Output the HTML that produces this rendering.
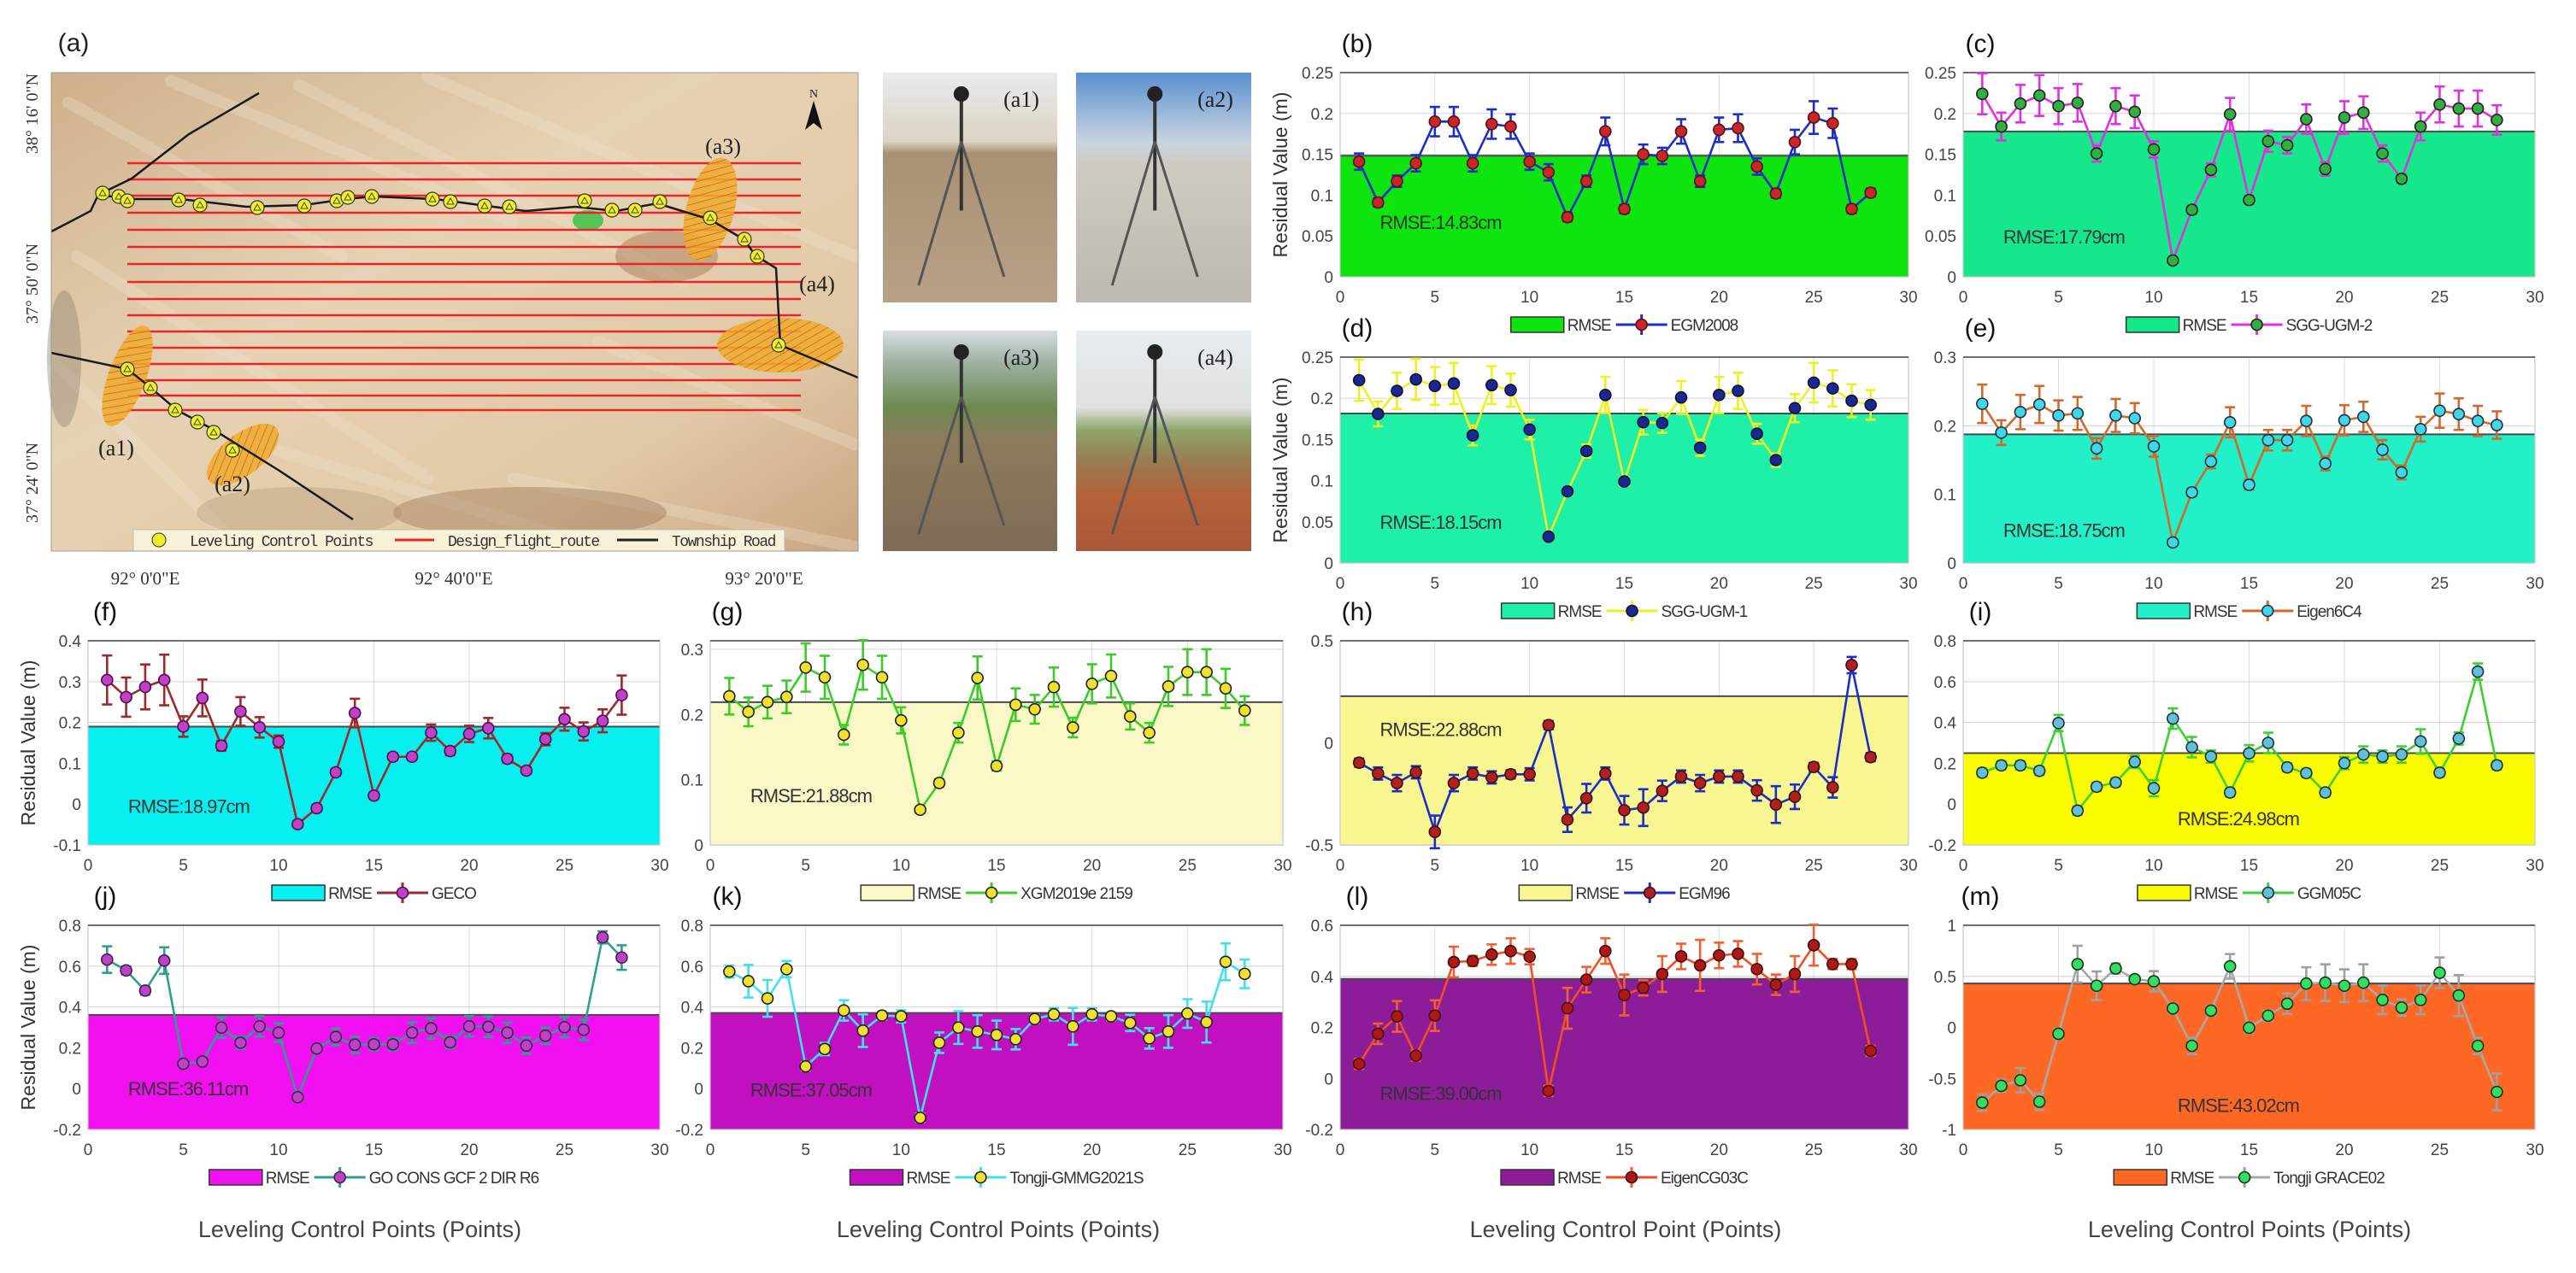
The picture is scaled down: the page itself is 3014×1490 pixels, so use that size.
<!DOCTYPE html>
<html><head><meta charset="utf-8"><style>
html,body{margin:0;padding:0;background:#fff}
svg{display:block;font-family:"Liberation Sans",Arial,sans-serif}
</style></head><body>
<svg id="fig" xmlns="http://www.w3.org/2000/svg" width="3014" height="1490" viewBox="0 0 3014 1490">
<defs>
<linearGradient id="mapbg" x1="0" y1="0" x2="1" y2="1"><stop offset="0" stop-color="#cfb08a"/><stop offset="0.4" stop-color="#e6d2b4"/><stop offset="0.75" stop-color="#e2c9a6"/><stop offset="1" stop-color="#c9a580"/></linearGradient>
<linearGradient id="ph1" x1="0" y1="0" x2="0" y2="1"><stop offset="0" stop-color="#e8ecee"/><stop offset="0.3" stop-color="#dcd3c2"/><stop offset="0.35" stop-color="#a89276"/><stop offset="1" stop-color="#b8a186"/></linearGradient>
<linearGradient id="ph2" x1="0" y1="0" x2="0" y2="1"><stop offset="0" stop-color="#5a8fd0"/><stop offset="0.3" stop-color="#c8d4e0"/><stop offset="0.4" stop-color="#cfcac2"/><stop offset="1" stop-color="#bdb8b0"/></linearGradient>
<linearGradient id="ph3" x1="0" y1="0" x2="0" y2="1"><stop offset="0" stop-color="#d8dde0"/><stop offset="0.15" stop-color="#9db0a0"/><stop offset="0.35" stop-color="#6e8a4e"/><stop offset="0.5" stop-color="#8d7b5e"/><stop offset="1" stop-color="#7d6c55"/></linearGradient>
<linearGradient id="ph4" x1="0" y1="0" x2="0" y2="1"><stop offset="0" stop-color="#e6ecf0"/><stop offset="0.35" stop-color="#dfe2de"/><stop offset="0.45" stop-color="#8ea66a"/><stop offset="0.6" stop-color="#9a7a50"/><stop offset="0.75" stop-color="#b5623a"/><stop offset="1" stop-color="#a8583a"/></linearGradient>
<pattern id="hatch" width="8" height="8" patternUnits="userSpaceOnUse" patternTransform="rotate(60)"><rect width="8" height="8" fill="#f2a92a" opacity="0.85"/><line x1="0" y1="0" x2="0" y2="8" stroke="#a06020" stroke-width="1.2"/></pattern>
</defs>
<g id="mapgrp"></g>
<g id="photos"></g>
<g id="charts"></g>
</svg>
<script>
// ===== chart data =====
const pointIds = [1,2,3,4,5,6,7,8,9,10,11,12,13,14,15,16,17,18,19,20,21,22,23,24,25,26,27,28];
const xTicks = [0,5,10,15,20,25,30];

const valsB = [0.141,0.091,0.117,0.139,0.19,0.19,0.139,0.187,0.184,0.141,0.128,0.073,0.117,0.178,0.083,0.150,0.148,0.178,0.117,0.180,0.182,0.135,0.102,0.165,0.195,0.188,0.083,0.103];
const errB = [0.01,0.005,0.007,0.01,0.018,0.018,0.01,0.018,0.015,0.01,0.01,0.005,0.007,0.017,0.005,0.012,0.01,0.015,0.007,0.015,0.017,0.01,0.005,0.015,0.02,0.018,0.005,0.005];
const valsC = [0.224,0.184,0.212,0.222,0.209,0.213,0.151,0.209,0.202,0.156,0.020,0.082,0.131,0.199,0.094,0.166,0.161,0.193,0.132,0.195,0.201,0.151,0.120,0.184,0.211,0.206,0.206,0.192];
const errC = [0.025,0.017,0.023,0.025,0.022,0.023,0.01,0.022,0.02,0.01,0.003,0.005,0.008,0.02,0.005,0.013,0.01,0.018,0.008,0.02,0.02,0.01,0.005,0.017,0.022,0.022,0.022,0.018];
const valsD = [0.222,0.181,0.209,0.223,0.215,0.218,0.155,0.216,0.210,0.162,0.032,0.087,0.136,0.204,0.099,0.171,0.170,0.201,0.140,0.204,0.209,0.157,0.125,0.188,0.219,0.212,0.197,0.192];
const errD = [0.025,0.015,0.022,0.025,0.023,0.025,0.012,0.023,0.02,0.012,0.003,0.004,0.008,0.022,0.005,0.015,0.012,0.02,0.01,0.022,0.022,0.012,0.008,0.017,0.024,0.022,0.02,0.018];
const valsE = [0.232,0.190,0.220,0.231,0.215,0.218,0.167,0.215,0.211,0.170,0.030,0.103,0.148,0.205,0.114,0.179,0.179,0.207,0.145,0.208,0.213,0.165,0.132,0.195,0.222,0.217,0.207,0.201];
const errE = [0.028,0.018,0.025,0.027,0.022,0.024,0.015,0.024,0.022,0.015,0.004,0.006,0.01,0.022,0.007,0.015,0.015,0.022,0.01,0.022,0.022,0.014,0.01,0.018,0.025,0.023,0.022,0.02];
const valsF = [0.304,0.262,0.287,0.304,0.190,0.260,0.143,0.227,0.188,0.153,-0.049,-0.010,0.078,0.223,0.021,0.116,0.116,0.175,0.130,0.172,0.186,0.111,0.082,0.159,0.208,0.178,0.204,0.267];
const errF = [0.06,0.048,0.055,0.062,0.025,0.045,0.012,0.035,0.025,0.015,0.008,0.008,0.008,0.035,0.008,0.008,0.008,0.02,0.01,0.02,0.025,0.01,0.008,0.015,0.028,0.022,0.028,0.048];
const valsG = [0.228,0.204,0.219,0.227,0.272,0.257,0.169,0.276,0.257,0.191,0.054,0.095,0.172,0.256,0.121,0.215,0.208,0.242,0.180,0.247,0.259,0.197,0.172,0.243,0.265,0.265,0.240,0.206];
const errG = [0.028,0.022,0.025,0.025,0.037,0.033,0.015,0.038,0.033,0.02,0.005,0.006,0.015,0.033,0.007,0.025,0.022,0.03,0.015,0.03,0.033,0.02,0.015,0.03,0.035,0.035,0.03,0.022];
const valsH = [-0.097,-0.150,-0.197,-0.144,-0.436,-0.197,-0.150,-0.169,-0.154,-0.154,0.087,-0.376,-0.271,-0.150,-0.330,-0.317,-0.235,-0.165,-0.197,-0.165,-0.165,-0.233,-0.302,-0.264,-0.118,-0.218,0.381,-0.070];
const errH = [0.02,0.03,0.04,0.03,0.08,0.04,0.03,0.03,0.02,0.03,0.02,0.06,0.07,0.03,0.07,0.09,0.05,0.03,0.04,0.03,0.03,0.05,0.09,0.06,0.02,0.05,0.04,0.02];
const valsI = [0.154,0.190,0.190,0.163,0.397,-0.032,0.085,0.106,0.207,0.078,0.419,0.279,0.233,0.057,0.249,0.300,0.180,0.152,0.057,0.201,0.243,0.233,0.243,0.307,0.154,0.321,0.649,0.190];
const errI = [0.02,0.02,0.02,0.02,0.04,0.02,0.02,0.02,0.03,0.04,0.05,0.05,0.03,0.02,0.04,0.05,0.02,0.02,0.02,0.03,0.04,0.03,0.04,0.06,0.02,0.03,0.04,0.02];
const valsJ = [0.632,0.579,0.480,0.627,0.122,0.133,0.299,0.225,0.305,0.274,-0.042,0.196,0.253,0.215,0.217,0.217,0.274,0.295,0.227,0.305,0.303,0.274,0.211,0.259,0.301,0.288,0.741,0.642];
const errJ = [0.065,0.02,0.02,0.065,0.02,0.02,0.05,0.03,0.05,0.045,0.02,0.02,0.04,0.04,0.03,0.03,0.05,0.05,0.03,0.05,0.05,0.05,0.04,0.04,0.05,0.05,0.03,0.06];
const valsK = [0.573,0.526,0.442,0.585,0.109,0.194,0.383,0.284,0.358,0.354,-0.143,0.225,0.299,0.280,0.263,0.242,0.341,0.364,0.305,0.364,0.354,0.322,0.246,0.280,0.368,0.326,0.621,0.562];
const errK = [0.03,0.08,0.09,0.04,0.02,0.03,0.05,0.08,0.02,0.03,0.02,0.05,0.08,0.08,0.07,0.05,0.02,0.03,0.09,0.03,0.02,0.04,0.05,0.08,0.07,0.1,0.09,0.07];
const valsL = [0.057,0.175,0.243,0.089,0.246,0.456,0.460,0.485,0.499,0.477,-0.049,0.275,0.387,0.499,0.327,0.355,0.409,0.478,0.443,0.482,0.488,0.428,0.367,0.409,0.522,0.448,0.448,0.108];
const errL = [0.02,0.04,0.06,0.02,0.06,0.06,0.02,0.04,0.05,0.03,0.02,0.08,0.05,0.05,0.08,0.03,0.07,0.05,0.1,0.05,0.05,0.06,0.04,0.07,0.08,0.02,0.02,0.02];
const valsM = [-0.737,-0.573,-0.518,-0.728,-0.063,0.619,0.408,0.577,0.472,0.451,0.185,-0.181,0.164,0.598,-0.004,0.114,0.232,0.429,0.438,0.408,0.438,0.269,0.194,0.269,0.535,0.312,-0.181,-0.632];
const errM = [0.08,0.06,0.12,0.08,0.05,0.18,0.14,0.05,0.03,0.1,0.05,0.08,0.05,0.12,0.05,0.05,0.1,0.16,0.18,0.16,0.18,0.14,0.08,0.14,0.15,0.2,0.08,0.18];

const rmseValues = [0.1483,0.1779,0.1815,0.1875,0.1897,0.2188,0.2288,0.2498,0.3611,0.3705,0.3900,0.4302];
const rmseLabels = ["RMSE:14.83cm","RMSE:17.79cm","RMSE:18.15cm","RMSE:18.75cm","RMSE:18.97cm","RMSE:21.88cm","RMSE:22.88cm","RMSE:24.98cm","RMSE:36.11cm","RMSE:37.05cm","RMSE:39.00cm","RMSE:43.02cm"];
const modelNames = ["EGM2008","SGG-UGM-2","SGG-UGM-1","Eigen6C4","GECO","XGM2019e 2159","EGM96","GGM05C","GO CONS GCF 2 DIR R6","Tongji-GMMG2021S","EigenCG03C","Tongji GRACE02"];
const yTicksB = [0,0.05,0.1,0.15,0.2,0.25];
const yTicksE = [0,0.1,0.2,0.3];
const yTicksF = [-0.1,0,0.1,0.2,0.3,0.4];
const yTicksG = [0,0.1,0.2,0.3];
const yTicksH = [-0.5,0,0.5];
const yTicksI = [-0.2,0,0.2,0.4,0.6,0.8];
const yTicksL = [-0.2,0,0.2,0.4,0.6];
const yTicksM = [-1,-0.5,0,0.5,1];

const NS="http://www.w3.org/2000/svg";
function mk(tag,attrs,parent){const e=document.createElementNS(NS,tag);for(const k in attrs)e.setAttribute(k,attrs[k]);if(parent)parent.appendChild(e);return e;}
function fmt(v){if(Math.abs(v)<1e-9)return "0";let s=String(+v.toFixed(2));return s;}

const charts=document.getElementById('charts');
const L1=1568,R1=2233,L2=2297,R2=2966,LF=103,RF=772,LG=831,RG=1501;
const panels=[
 {id:'b',label:'(b)',l:L1,r:R1,t:85,b:324,vals:valsB,err:errB,ri:0,ymin:0,ymax:0.25,ticks:yTicksB,fill:'#0ee40e',line:'#1b2fc8',mk:'#c8262a',mke:'#5a1010',eb:'#1b2fc8',tx:0.07,ty:0.067,ytitle:true},
 {id:'c',label:'(c)',l:L2,r:R2,t:85,b:324,vals:valsC,err:errC,ri:1,ymin:0,ymax:0.25,ticks:yTicksB,fill:'#14e88a',line:'#e030e0',mk:'#30b040',mke:'#202020',eb:'#e030e0',tx:0.07,ty:0.049},
 {id:'d',label:'(d)',l:L1,r:R1,t:418,b:659,vals:valsD,err:errD,ri:2,ymin:0,ymax:0.25,ticks:yTicksB,fill:'#1ef0a8',line:'#f0f020',mk:'#1a2890',mke:'#101040',eb:'#f0f020',tx:0.07,ty:0.05,ytitle:true},
 {id:'e',label:'(e)',l:L2,r:R2,t:418,b:659,vals:valsE,err:errE,ri:3,ymin:0,ymax:0.3,ticks:yTicksE,fill:'#22f0c8',line:'#d2692a',mk:'#40d8e8',mke:'#203040',eb:'#d2692a',tx:0.07,ty:0.048},
 {id:'f',label:'(f)',l:LF,r:RF,t:750,b:989,vals:valsF,err:errF,ri:4,ymin:-0.1,ymax:0.4,ticks:yTicksF,fill:'#06f0f0',line:'#a0282a',mk:'#c040c8',mke:'#501050',eb:'#a0282a',tx:0.07,ty:-0.005,ytitle:true},
 {id:'g',label:'(g)',l:LG,r:RG,t:750,b:989,vals:valsG,err:errG,ri:5,ymin:0,ymax:0.313,ticks:yTicksG,fill:'#fbf8c8',line:'#3ccc28',mk:'#f0e030',mke:'#202020',eb:'#3ccc28',tx:0.07,ty:0.076},
 {id:'h',label:'(h)',l:L1,r:R1,t:750,b:989,vals:valsH,err:errH,ri:6,ymin:-0.5,ymax:0.5,ticks:yTicksH,fill:'#f8f690',line:'#1b2fc8',mk:'#b02020',mke:'#401010',eb:'#1b2fc8',tx:0.07,ty:0.067},
 {id:'i',label:'(i)',l:L2,r:R2,t:750,b:989,vals:valsI,err:errI,ri:7,ymin:-0.2,ymax:0.8,ticks:yTicksI,fill:'#fcfc00',line:'#3cd030',mk:'#60c0d8',mke:'#203040',eb:'#3cd030',tx:0.375,ty:-0.071},
 {id:'j',label:'(j)',l:LF,r:RF,t:1083,b:1322,vals:valsJ,err:errJ,ri:8,ymin:-0.2,ymax:0.8,ticks:yTicksI,fill:'#f010f0',line:'#2e9e8e',mk:'#c040c8',mke:'#402050',eb:'#2e9e8e',tx:0.07,ty:0.0,ytitle:true},
 {id:'k',label:'(k)',l:LG,r:RG,t:1083,b:1322,vals:valsK,err:errK,ri:9,ymin:-0.2,ymax:0.8,ticks:yTicksI,fill:'#c010c0',line:'#40e0f0',mk:'#f0e030',mke:'#202020',eb:'#40e0f0',tx:0.07,ty:-0.006},
 {id:'l',label:'(l)',l:L1,r:R1,t:1083,b:1322,vals:valsL,err:errL,ri:10,ymin:-0.2,ymax:0.6,ticks:yTicksL,fill:'#8c1c98',line:'#f05020',mk:'#b01818',mke:'#401010',eb:'#f06030',tx:0.07,ty:-0.057},
 {id:'m',label:'(m)',l:L2,r:R2,t:1083,b:1322,vals:valsM,err:errM,ri:11,ymin:-1,ymax:1,ticks:yTicksM,fill:'#fe6824',line:'#a8a8a8',mk:'#30e060',mke:'#203020',eb:'#a0a0a0',tx:0.375,ty:-0.76}
];

function drawPanel(p){
  const g=mk('g',{},charts);
  
  
  const xs=v=>p.l+(v-0)/(30-0)*(p.r-p.l);
  const ys=v=>p.b-(v-p.ymin)/(p.ymax-p.ymin)*(p.b-p.t);
  mk('rect',{x:p.l,y:p.t,width:p.r-p.l,height:p.b-p.t,fill:'#fff'},g);
  xTicks.forEach(t=>{mk('line',{x1:xs(t),x2:xs(t),y1:p.t,y2:p.b,stroke:'#dcdcdc','stroke-width':1},g);});
  p.ticks.forEach(t=>{mk('line',{x1:p.l,x2:p.r,y1:ys(t),y2:ys(t),stroke:'#d8d8d8','stroke-width':1.2},g);});
  const rv=rmseValues[p.ri];
  const fr=mk('rect',{x:p.l,y:ys(rv),width:p.r-p.l,height:p.b-ys(rv),fill:p.fill},g);
  
  
  mk('line',{x1:p.l,x2:p.r,y1:ys(rv),y2:ys(rv),stroke:'#4a4a4a','stroke-width':2},g);
  mk('rect',{x:p.l,y:p.t,width:p.r-p.l,height:p.b-p.t,fill:'none',stroke:'#c8c8c8','stroke-width':1.2},g);
  mk('line',{x1:p.l,x2:p.r,y1:p.t,y2:p.t,stroke:'#707070','stroke-width':2},g);
  xTicks.forEach(t=>{const tx=mk('text',{x:xs(t),y:p.b+30,'text-anchor':'middle','font-size':19,fill:'#444'},g);tx.textContent=t;
    
    });
  p.ticks.forEach(t=>{const ty=mk('text',{x:p.l-8,y:ys(t)+7,'text-anchor':'end','font-size':19,fill:'#444'},g);ty.textContent=fmt(t);
    
    });
  const rt=mk('text',{x:p.l+p.tx*(p.r-p.l),y:ys(p.ty)+8,'font-size':22,fill:'#333','letter-spacing':'-1'},g);
  rt.textContent=rmseLabels[p.ri];
  
  
  const pts=pointIds.map((x,i)=>xs(x)+','+ys(p.vals[i])).join(' ');
  const pl=mk('polyline',{points:pts,fill:'none',stroke:p.line,'stroke-width':2.6},g);
  
  
  pointIds.forEach((x,i)=>{
    const v=p.vals[i],e=p.err[i],cx=xs(x);
    const eg=mk('g',{stroke:p.eb,'stroke-width':2.6},g);
    
    
    mk('line',{x1:cx,x2:cx,y1:ys(v-e),y2:ys(v+e)},eg);
    mk('line',{x1:cx-6,x2:cx+6,y1:ys(v-e),y2:ys(v-e)},eg);
    mk('line',{x1:cx-6,x2:cx+6,y1:ys(v+e),y2:ys(v+e)},eg);
  });
  pointIds.forEach((x,i)=>{
    const c=mk('circle',{cx:xs(x),cy:ys(p.vals[i]),r:6.5,fill:p.mk,stroke:p.mke,'stroke-width':1.6},g);
    
    
  });
  const lb=mk('text',{x:p.l+20,y:p.t-24,'text-anchor':'middle','font-size':30,fill:'#111'},g);
  lb.textContent=p.label;
  
  
  const lg=mk('g',{},g);
  
  
  const ly=p.b+56;
  mk('rect',{x:0,y:ly-9,width:62,height:18,fill:p.fill,stroke:'#333','stroke-width':1.5},lg);
  const t1=mk('text',{x:66,y:ly+7,'font-size':19,fill:'#333','letter-spacing':'-1'},lg);t1.textContent='RMSE';
  const w1=66+t1.getComputedTextLength()+6;
  mk('line',{x1:w1,x2:w1+60,y1:ly,y2:ly,stroke:p.line,'stroke-width':3},lg);
  mk('line',{x1:w1+30,x2:w1+30,y1:ly-12,y2:ly+12,stroke:p.eb,'stroke-width':3},lg);
  mk('circle',{cx:w1+30,cy:ly,r:6.5,fill:p.mk,stroke:p.mke,'stroke-width':1.6},lg);
  const t2=mk('text',{x:w1+64,y:ly+7,'font-size':19,fill:'#333','letter-spacing':'-1'},lg);t2.textContent=modelNames[p.ri];
  const tot=w1+64+t2.getComputedTextLength();
  lg.setAttribute('transform',`translate(${(p.l+p.r)/2-tot/2},0)`);
  if(p.ytitle){
    const cy=(p.t+p.b)/2, xx=p.l-62;
    const yt=mk('text',{x:xx,y:cy,'text-anchor':'middle','font-size':23,fill:'#333',transform:`rotate(-90 ${xx} ${cy})`},g);
    yt.textContent='Residual Value (m)';
    
    
  }
}
panels.forEach(drawPanel);
[[421,'Leveling Control Points (Points)'],[1168,'Leveling Control Points (Points)'],[1902,'Leveling Control Point (Points)'],[2632,'Leveling Control Points (Points)']].forEach(a=>{
  const t=mk('text',{x:a[0],y:1448,'text-anchor':'middle','font-size':27,fill:'#444'},charts);
  t.textContent=a[1];
  
  
});

// ===== map (a) =====
const mg=document.getElementById('mapgrp');
const MX0=60,MY0=85,MX1=1004,MY1=645;
mk('rect',{x:MX0,y:MY0,width:MX1-MX0,height:MY1-MY0,fill:'url(#mapbg)'},mg);
const streaks=[[80,120,400,300],[200,95,600,260],[350,100,800,330],[500,90,1000,300],[90,300,500,560],[300,520,700,640],[600,560,1000,640],[700,400,1000,520],[60,420,260,620]];
streaks.forEach(s=>mk('line',{x1:s[0],y1:s[1],x2:s[2],y2:s[3],stroke:'#f0e4d2','stroke-width':14,opacity:0.3,'stroke-linecap':'round'},mg));
mk('ellipse',{cx:620,cy:600,rx:160,ry:30,fill:'#8a6446',opacity:0.35},mg);
mk('ellipse',{cx:350,cy:600,rx:120,ry:30,fill:'#a98a6a',opacity:0.3},mg);
mk('ellipse',{cx:75,cy:420,rx:20,ry:80,fill:'#8a8070',opacity:0.4},mg);
mk('ellipse',{cx:780,cy:300,rx:60,ry:30,fill:'#9a6a40',opacity:0.4},mg);
mk('ellipse',{cx:688,cy:258,rx:18,ry:12,fill:'#30c040',opacity:0.8},mg);
const lineYs=[191,210,229,249,269,289,309,330,350,369,388,407,426,445,463,480];
const fl=mk('g',{},mg);
lineYs.forEach(y=>mk('line',{x1:149,x2:937,y1:y,y2:y,stroke:'#e8262a','stroke-width':2.6},fl));
const hz=[[831,245,28,62,15],[913,404,74,32,0],[149,440,22,62,20],[284,532,50,24,-38]];
hz.forEach(h=>mk('ellipse',{cx:h[0],cy:h[1],rx:h[2],ry:h[3],fill:'url(#hatch)',transform:`rotate(${h[4]} ${h[0]} ${h[1]})`},mg));
const road1=[[303,109],[221,157],[154,209],[115,228],[106,247],[60,271]];
const road2=[[115,228],[154,233],[211,233],[288,242],[356,240],[404,233],[437,230],[509,233],[577,242],[615,247],[673,242],[721,247],[769,238],[798,247],[831,257],[870,280],[884,299],[908,314],[913,404],[1004,442]];
const road3=[[60,413],[149,432],[173,451],[207,480],[250,503],[274,518],[327,551],[413,608]];
[road1,road2,road3].forEach(r=>mk('polyline',{points:r.map(p=>p.join(',')).join(' '),fill:'none',stroke:'#1a1a1a','stroke-width':2.5},mg));
const lcp=[[120,226],[139,230],[149,235],[209,234],[234,240],[301,243],[356,241],[394,235],[407,231],[435,230],[506,233],[527,236],[567,241],[596,242],[684,235],[716,246],[743,246],[772,236],[831,255],[871,280],[886,300],[911,404],[149,432],[176,454],[205,480],[231,494],[250,506],[272,527]];
lcp.forEach(q=>{const c=mk('circle',{cx:q[0],cy:q[1],r:8,fill:'#f0f028',stroke:'#333','stroke-width':1.2},mg);
  
  
  mk('path',{d:`M${q[0]-4},${q[1]+3} L${q[0]},${q[1]-4} L${q[0]+4},${q[1]+3}Z`,fill:'none',stroke:'#444','stroke-width':1},mg);});
function txt(x,y,s,size,attrs,parent,name){const t=mk('text',Object.assign({x:x,y:y,'font-size':size,fill:'#222','font-family':'"Liberation Serif",serif'},attrs||{}),parent||mg);t.textContent=s;return t;}
txt(846,180,'(a3)',26,{'text-anchor':'middle'});
txt(956,341,'(a4)',26,{'text-anchor':'middle'});
txt(136,533,'(a1)',26,{'text-anchor':'middle'});
txt(272,575,'(a2)',26,{'text-anchor':'middle'});
mk('path',{d:'M952,118 L942,152 L952,144 L962,152Z',fill:'#111'},mg);
txt(952,114,'N',14,{'text-anchor':'middle'});
const lgb=mk('g',{},mg);


mk('rect',{x:156,y:620,width:762,height:25,fill:'#f8f2d8',stroke:'#bbb'},lgb);
mk('circle',{cx:186,cy:632,r:8,fill:'#f0f028',stroke:'#333'},lgb);
txt(222,639,'Leveling Control Points',18,{fill:'#333','font-family':'"Liberation Mono",monospace','letter-spacing':'-1.5'},lgb);
mk('line',{x1:462,x2:508,y1:632,y2:632,stroke:'#e8262a','stroke-width':3},lgb);
txt(524,639,'Design_flight_route',18,{fill:'#333','font-family':'"Liberation Mono",monospace','letter-spacing':'-1.5'},lgb);
mk('line',{x1:722,x2:770,y1:632,y2:632,stroke:'#222','stroke-width':3},lgb);
txt(786,639,'Township Road',18,{fill:'#333','font-family':'"Liberation Mono",monospace','letter-spacing':'-1.5'},lgb);
txt(86,60,'(a)',30,{'text-anchor':'middle','font-family':'"Liberation Sans",sans-serif'},mg,'panel-label');
[[133,'38° 16\' 0"N'],[332,'37° 50\' 0"N'],[565,'37° 24\' 0"N']].forEach(a=>txt(44,a[0],a[1],20,{'text-anchor':'middle',transform:`rotate(-90 44 ${a[0]})`,fill:'#333'},mg,'latitude-label'));
[[170,'92° 0\'0"E'],[531,'92° 40\'0"E'],[894,'93° 20\'0"E']].forEach(a=>txt(a[0],684,a[1],21,{'text-anchor':'middle',fill:'#333'},mg,'longitude-label'));
mk('rect',{x:MX0,y:MY0,width:MX1-MX0,height:MY1-MY0,fill:'none',stroke:'#999','stroke-width':1},mg);

// ===== photos =====
const pg=document.getElementById('photos');
const photos=[[1033,85,204,269,'ph1','(a1)'],[1259,85,205,269,'ph2','(a2)'],[1033,387,204,258,'ph3','(a3)'],[1259,387,205,258,'ph4','(a4)']];
photos.forEach(p=>{
  const g=mk('g',{},pg);
  
  
  mk('rect',{x:p[0],y:p[1],width:p[2],height:p[3],fill:'url(#'+p[4]+')'},g);
  const cx=p[0]+p[2]*0.45, top=p[1]+25;
  mk('line',{x1:cx,y1:top,x2:cx,y2:p[1]+p[3]*0.6,stroke:'#333','stroke-width':4},g);
  mk('line',{x1:cx,y1:p[1]+p[3]*0.3,x2:cx-50,y2:p[1]+p[3]-20,stroke:'#555','stroke-width':3},g);
  mk('line',{x1:cx,y1:p[1]+p[3]*0.3,x2:cx+50,y2:p[1]+p[3]-30,stroke:'#555','stroke-width':3},g);
  mk('circle',{cx:cx,cy:top,r:9,fill:'#222'},g);
  txt(p[0]+p[2]-42,p[1]+40,p[5],26,{'text-anchor':'middle'},g,'photo-label');
});
</script>
</body></html>
